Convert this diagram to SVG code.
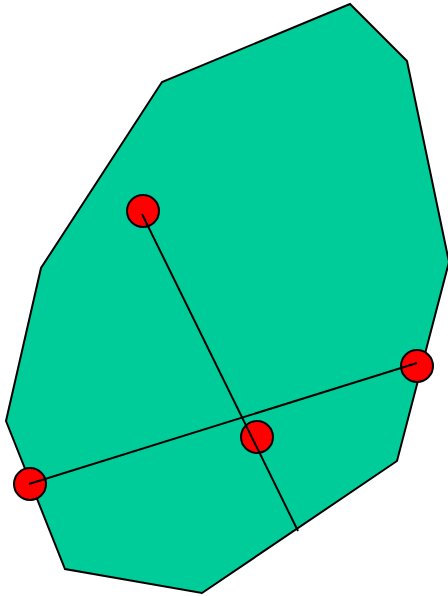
<svg xmlns="http://www.w3.org/2000/svg" width="448" height="596" viewBox="0 0 448 596">
<style>
.poly{fill:#00CC99;stroke:#000;stroke-width:2;stroke-linejoin:miter}
.pt{fill:#FF0000;stroke:#000;stroke-width:2}
.ln{stroke:#000;stroke-width:2;fill:none}
</style>
<g id="region"><polygon class="poly" points="350,4 407,61 449,262 397,461 202,593 65,569 6,421 41,268 162,82"/></g>
<g id="p1"><circle class="pt" cx="143" cy="211" r="16"/></g>
<g id="p2"><circle class="pt" cx="417" cy="366" r="16"/></g>
<g id="p3"><circle class="pt" cx="257" cy="437" r="16"/></g>
<g id="p4"><circle class="pt" cx="30" cy="484" r="16"/></g>
<g id="connectors">
<line class="ln" x1="142" y1="214" x2="298" y2="531"/>
<line class="ln" x1="29" y1="484" x2="417" y2="363"/>
</g>
</svg>
